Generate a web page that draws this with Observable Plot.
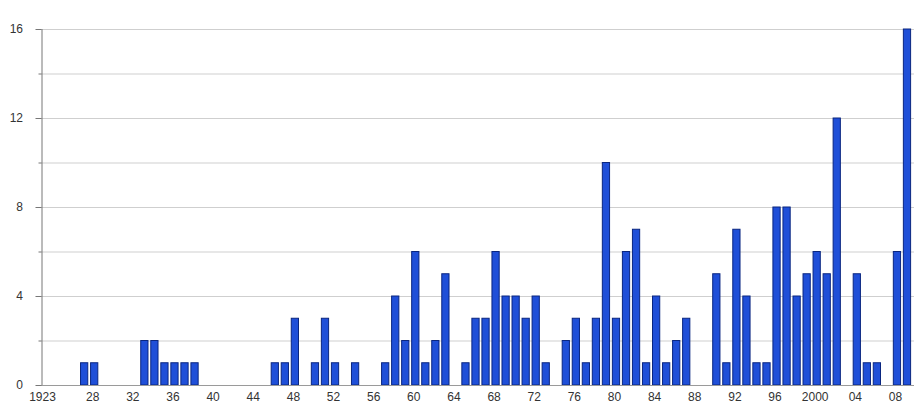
<!DOCTYPE html>
<html>
<head>
<meta charset="utf-8">
<script src="https://cdn.jsdelivr.net/npm/d3@7"></script>
<script src="https://cdn.jsdelivr.net/npm/@observablehq/plot@0.6"></script>
<style>
  html, body { margin: 0; padding: 0; background: #fff; }
  #chart svg { display: block; }
</style>
</head>
<body>
<div id="chart"></div>
<script>
const years = d3.range(1923, 2010);
const counts = [
  0, 0, 0, 0, 1, 1, 0, 0, 0, 0,      // 1923-1932
  2, 2, 1, 1, 1, 1, 0, 0, 0, 0,      // 1933-1942
  0, 0, 0, 1, 1, 3, 0, 1, 3, 1,      // 1943-1952
  0, 1, 0, 0, 1, 4, 2, 6, 1, 2,      // 1953-1962
  5, 0, 1, 3, 3, 6, 4, 4, 3, 4,      // 1963-1972
  1, 0, 2, 3, 1, 3, 10, 3, 6, 7,     // 1973-1982
  1, 4, 1, 2, 3, 0, 0, 5, 1, 7,      // 1983-1992
  4, 1, 1, 8, 8, 4, 5, 6, 5, 12,     // 1993-2002
  0, 5, 1, 1, 0, 6, 16               // 2003-2009
];
const xTickYears = [1923, 1928, 1932, 1936, 1940, 1944, 1948, 1952, 1956, 1960, 1964, 1968, 1972, 1976, 1980, 1984, 1988, 1992, 1996, 2000, 2004, 2008];
const xTickLabels = ["1923", "28", "32", "36", "40", "44", "48", "52", "56", "60", "64", "68", "72", "76", "80", "84", "88", "92", "96", "2000", "04", "08"];
const yMajorTicks = [0, 4, 8, 12, 16];
const yMinorTicks = [2, 6, 10, 14];
const gridValues = [2, 4, 6, 8, 10, 12, 14, 16];

const data = years.map((year, i) => ({year, count: counts[i]}));
const labelOf = new Map(xTickYears.map((y, i) => [y, xTickLabels[i]]));

const chart = Plot.plot({
  width: 924,
  height: 418,
  marginTop: 29,
  marginBottom: 33,
  marginLeft: 39,
  marginRight: 12,
  style: {fontFamily: "'Liberation Sans', Arial, sans-serif", fontSize: "12px", color: "#333", background: "#fff"},
  x: {type: "linear", domain: [1922.5, 2009.5], label: null},
  y: {domain: [0, 16], label: null},
  marks: [
    Plot.ruleY(gridValues, {stroke: "#cfcfcf", strokeWidth: 1, x1: 1922.5, x2: 2009.5, dx: 2}),
    Plot.rectY(data.filter(d => d.count > 0), {
      x1: d => d.year - 0.5,
      x2: d => d.year + 0.5,
      y: "count",
      fill: "#1f4fd8",
      stroke: "#0a2680",
      strokeWidth: 1,
      insetLeft: 1.4,
      insetRight: 1.4
    }),
    Plot.ruleY([0], {stroke: "#9a9a9a", strokeWidth: 1.2, x1: 1922.5, x2: 2009.5, dx: 2}),
    Plot.ruleX([1922.5], {y1: 0, y2: 16, stroke: "#777", strokeWidth: 1, dx: 2.5}),
    Plot.axisY(yMajorTicks, {tickSize: 6, tickPadding: 13, stroke: "#777", fill: "#333", dx: 2.5, fontSize: 12, label: null}),
    Plot.axisY(yMinorTicks, {tickSize: 3, tickFormat: () => "", stroke: "#777", dx: 2.5, label: null}),
    Plot.axisX(xTickYears, {tickSize: 0, tickPadding: 7, tickFormat: d => labelOf.get(d), fill: "#333", dx: -2, fontSize: 12, label: null})
  ]
});
document.getElementById("chart").appendChild(chart);
</script>
</body>
</html>
